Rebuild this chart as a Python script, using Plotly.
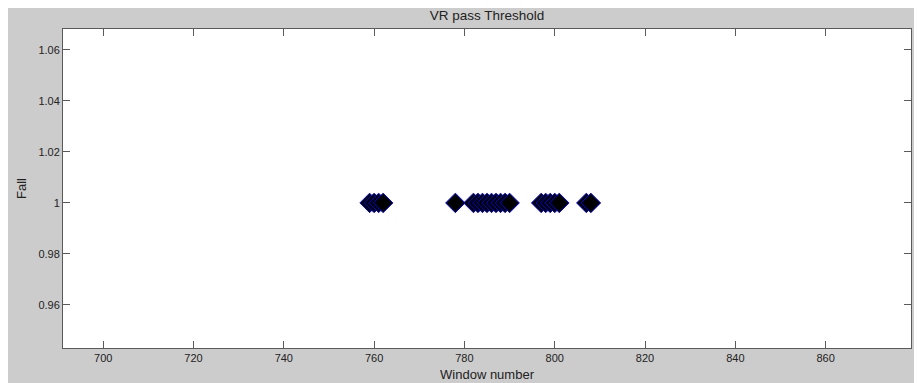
import plotly.graph_objects as go

# Data
window_numbers = [759, 760, 761, 762, 778, 782, 783, 784, 785, 786, 787, 788, 789, 790,
                  797, 798, 799, 800, 801, 807, 808]
fall_values = [1] * len(window_numbers)

x_ticks = [700, 720, 740, 760, 780, 800, 820, 840, 860]
y_ticks = [0.96, 0.98, 1.0, 1.02, 1.04, 1.06]
y_tick_labels = ["0.96", "0.98", "1", "1.02", "1.04", "1.06"]

W, H = 922, 383
L, R, T, B = 55, 19, 21, 43
pw, ph = W - L - R, H - T - B

fig = go.Figure()
fig.add_trace(go.Scatter(
    x=window_numbers, y=fall_values, mode="markers",
    marker=dict(symbol="diamond", size=15, color="black",
                line=dict(color="#0000ff", width=1)),
    showlegend=False,
))

axis_common = dict(
    showgrid=False, zeroline=False, showline=True, linecolor="#5a5a5a", linewidth=1,
    mirror="ticks", ticks="inside", ticklen=7, tickcolor="#5a5a5a", tickwidth=1,
    automargin=False,
    tickfont=dict(family="Liberation Sans, Arial", size=11, color="#222222"),
)

fig.update_layout(
    width=W, height=H,
    margin=dict(l=L, r=R, t=T, b=B, pad=0, autoexpand=False),
    paper_bgcolor="#cccccc", plot_bgcolor="white",
    font=dict(family="Liberation Sans, Arial", color="#222222"),
    title=dict(text="VR pass Threshold", x=(L + pw / 2) / W, xanchor="center",
               y=1 - 7 / H, yanchor="middle", yref="container",
               font=dict(size=13.5, color="#222222")),
    xaxis=dict(range=[691.1, 878.9], tickvals=x_ticks,
               title=dict(text="Window number", standoff=6,
                          font=dict(size=13, color="#222222")),
               **axis_common),
    yaxis=dict(range=[0.9431, 1.0682], tickvals=y_ticks, ticktext=y_tick_labels,
               title=dict(text="Fall", standoff=8,
                          font=dict(size=13, color="#222222")),
               **axis_common),
)

fig.write_html("out.html")
